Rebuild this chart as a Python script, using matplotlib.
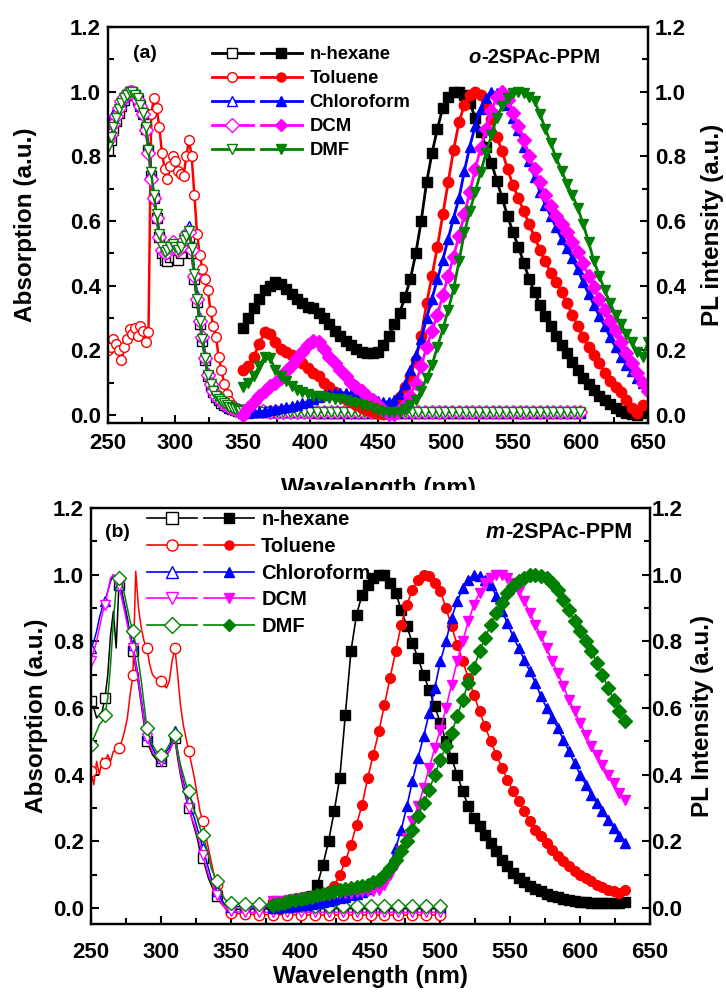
import numpy as np
import matplotlib
matplotlib.use("Agg")
import matplotlib.pyplot as plt
from matplotlib.lines import Line2D
from matplotlib.legend_handler import HandlerTuple
from matplotlib.ticker import MultipleLocator, FormatStrFormatter
from matplotlib.patches import Rectangle

plt.rcParams['font.family'] = ['Liberation Sans', 'DejaVu Sans']
plt.rcParams['font.weight'] = 'bold'
plt.rcParams['axes.labelweight'] = 'bold'

solvents = ["n-hexane", "Toluene", "Chloroform", "DCM", "DMF"]
colors = ["#000000", "#ff0000", "#0000ff", "#ff00ff", "#008000"]
markers_a = ["s", "o", "^", "D", "v"]
markers_b = ["s", "o", "^", "v", "D"]

# ---------------- Panel (a): o-2SPAc-PPM ----------------
wl_abs_a = np.concatenate([np.arange(250, 350, 2), np.arange(350, 601, 5)])
abs_a_hexane = [0.82, 0.85, 0.88, 0.91, 0.935, 0.955, 0.975, 0.99, 1.0, 1.0,
                0.99, 0.975, 0.955, 0.93, 0.885, 0.82, 0.74, 0.67, 0.61, 0.55,
                0.50, 0.48, 0.475, 0.49, 0.50, 0.49, 0.48, 0.50, 0.52, 0.54,
                0.55, 0.50, 0.42, 0.35, 0.28, 0.23, 0.17, 0.12, 0.09, 0.07,
                0.055, 0.045, 0.038, 0.032, 0.027, 0.022, 0.018, 0.015, 0.013, 0.012,
                0.011, 0.010, 0.010, 0.009, 0.009, 0.009, 0.008, 0.008, 0.008, 0.008,
                0.008, 0.007, 0.007, 0.007, 0.007, 0.007, 0.007, 0.006, 0.006, 0.006,
                0.006, 0.006, 0.006, 0.006, 0.006, 0.005, 0.005, 0.005, 0.005, 0.005,
                0.005, 0.005, 0.005, 0.005, 0.005, 0.005, 0.005, 0.005, 0.005, 0.005,
                0.005, 0.005, 0.005, 0.005, 0.005, 0.005, 0.005, 0.005, 0.005, 0.005,
                0.005]
abs_a_toluene = [0.20, 0.21, 0.235, 0.22, 0.20, 0.17, 0.21, 0.235, 0.265, 0.25,
                 0.27, 0.245, 0.275, 0.26, 0.225, 0.255, 0.93, 0.98, 0.95, 0.89,
                 0.81, 0.76, 0.73, 0.77, 0.80, 0.785, 0.755, 0.745, 0.74, 0.80,
                 0.85, 0.80, 0.68, 0.56, 0.495, 0.45, 0.42, 0.385, 0.32, 0.275,
                 0.24, 0.18, 0.14, 0.095, 0.065, 0.042, 0.03, 0.02, 0.015, 0.012,
                 0.012, 0.012, 0.011, 0.011, 0.011, 0.010, 0.010, 0.010, 0.010, 0.010,
                 0.009, 0.009, 0.009, 0.009, 0.009, 0.009, 0.008, 0.008, 0.008, 0.008,
                 0.008, 0.008, 0.008, 0.008, 0.007, 0.007, 0.007, 0.007, 0.007, 0.007,
                 0.007, 0.007, 0.007, 0.007, 0.007, 0.007, 0.007, 0.007, 0.007, 0.007,
                 0.007, 0.007, 0.007, 0.007, 0.007, 0.007, 0.007, 0.007, 0.007, 0.007,
                 0.007]
abs_a_chloroform = [0.90, 0.91, 0.93, 0.945, 0.96, 0.975, 0.985, 0.995, 1.0, 1.0,
                    0.995, 0.98, 0.96, 0.935, 0.89, 0.83, 0.75, 0.68, 0.62, 0.56,
                    0.52, 0.51, 0.515, 0.525, 0.535, 0.525, 0.515, 0.525, 0.545, 0.565,
                    0.585, 0.52, 0.44, 0.37, 0.30, 0.245, 0.18, 0.13, 0.10, 0.08,
                    0.065, 0.053, 0.045, 0.038, 0.032, 0.026, 0.021, 0.018, 0.015, 0.013,
                    0.012, 0.012, 0.011, 0.011, 0.010, 0.010, 0.010, 0.010, 0.009, 0.009,
                    0.009, 0.009, 0.009, 0.009, 0.009, 0.008, 0.008, 0.008, 0.008, 0.008,
                    0.008, 0.008, 0.008, 0.008, 0.008, 0.008, 0.008, 0.008, 0.008, 0.008,
                    0.008, 0.008, 0.008, 0.008, 0.008, 0.008, 0.008, 0.008, 0.008, 0.008,
                    0.008, 0.008, 0.008, 0.008, 0.008, 0.008, 0.008, 0.008, 0.008, 0.008,
                    0.008]
abs_a_dcm = [0.85, 0.87, 0.90, 0.925, 0.95, 0.97, 0.985, 0.995, 1.0, 1.0,
             0.99, 0.975, 0.955, 0.93, 0.88, 0.81, 0.73, 0.67, 0.61, 0.55,
             0.51, 0.50, 0.505, 0.52, 0.535, 0.52, 0.51, 0.52, 0.54, 0.56,
             0.565, 0.51, 0.43, 0.36, 0.29, 0.24, 0.175, 0.125, 0.095, 0.075,
             0.06, 0.05, 0.042, 0.035, 0.03, 0.025, 0.02, 0.017, 0.015, 0.013,
             0.012, 0.011, 0.011, 0.011, 0.010, 0.010, 0.010, 0.010, 0.010, 0.010,
             0.010, 0.010, 0.010, 0.010, 0.010, 0.010, 0.010, 0.010, 0.010, 0.010,
             0.010, 0.010, 0.010, 0.010, 0.010, 0.010, 0.010, 0.010, 0.010, 0.010,
             0.010, 0.010, 0.010, 0.010, 0.010, 0.010, 0.010, 0.010, 0.010, 0.010,
             0.010, 0.010, 0.010, 0.010, 0.010, 0.010, 0.010, 0.010, 0.010, 0.010,
             0.010]
abs_a_dmf = [0.83, 0.86, 0.89, 0.92, 0.945, 0.965, 0.98, 0.99, 1.0, 1.0,
             0.99, 0.98, 0.96, 0.935, 0.89, 0.82, 0.75, 0.68, 0.62, 0.56,
             0.52, 0.505, 0.51, 0.52, 0.53, 0.52, 0.51, 0.52, 0.54, 0.555,
             0.57, 0.515, 0.435, 0.36, 0.29, 0.235, 0.175, 0.125, 0.095, 0.075,
             0.06, 0.05, 0.042, 0.036, 0.03, 0.025, 0.02, 0.017, 0.015, 0.013,
             0.012, 0.011, 0.011, 0.010, 0.010, 0.010, 0.009, 0.009, 0.009, 0.009,
             0.009, 0.009, 0.009, 0.009, 0.009, 0.009, 0.009, 0.009, 0.009, 0.009,
             0.009, 0.009, 0.009, 0.009, 0.009, 0.009, 0.009, 0.009, 0.009, 0.009,
             0.009, 0.009, 0.009, 0.009, 0.009, 0.009, 0.009, 0.009, 0.009, 0.009,
             0.009, 0.009, 0.009, 0.009, 0.009, 0.009, 0.009, 0.009, 0.009, 0.009,
             0.009]

wl_pl_a = np.arange(350, 651, 4)
pl_a_hexane = [0.27, 0.30, 0.33, 0.36, 0.385, 0.40, 0.41, 0.405, 0.39, 0.375,
               0.36, 0.345, 0.335, 0.33, 0.315, 0.30, 0.28, 0.26, 0.245, 0.23,
               0.215, 0.205, 0.195, 0.19, 0.19, 0.195, 0.215, 0.245, 0.28, 0.315,
               0.365, 0.42, 0.50, 0.60, 0.72, 0.81, 0.885, 0.95, 0.985, 1.0,
               1.0, 0.99, 0.965, 0.92, 0.875, 0.83, 0.78, 0.725, 0.67, 0.615,
               0.565, 0.52, 0.47, 0.42, 0.38, 0.34, 0.305, 0.275, 0.245, 0.215,
               0.19, 0.165, 0.14, 0.115, 0.095, 0.078, 0.06, 0.045, 0.033, 0.022,
               0.013, 0.006, 0.002, 0.0, 0.005]
pl_a_toluene = [0.14, 0.15, 0.18, 0.22, 0.255, 0.25, 0.225, 0.205, 0.195, 0.185,
                0.175, 0.16, 0.145, 0.13, 0.12, 0.10, 0.085, 0.07, 0.06, 0.05,
                0.04, 0.03, 0.022, 0.015, 0.01, 0.005, 0.002, 0.01, 0.03, 0.055,
                0.085, 0.12, 0.17, 0.245, 0.345, 0.43, 0.52, 0.62, 0.72, 0.82,
                0.905, 0.96, 0.99, 1.0, 0.99, 0.96, 0.915, 0.86, 0.815, 0.76,
                0.71, 0.67, 0.63, 0.59, 0.55, 0.51, 0.475, 0.44, 0.41, 0.38,
                0.345, 0.31, 0.275, 0.24, 0.21, 0.185, 0.16, 0.13, 0.105, 0.085,
                0.07, 0.045, 0.02, 0.006, 0.03]
pl_a_chloroform = [0.005, 0.005, 0.008, 0.01, 0.012, 0.015, 0.018, 0.022, 0.026, 0.028,
                   0.032, 0.036, 0.04, 0.048, 0.056, 0.062, 0.066, 0.068, 0.068, 0.067,
                   0.066, 0.064, 0.06, 0.055, 0.048, 0.043, 0.04, 0.04, 0.045, 0.065,
                   0.095, 0.14, 0.185, 0.235, 0.30, 0.36, 0.42, 0.48, 0.545, 0.61,
                   0.67, 0.755, 0.83, 0.895, 0.945, 0.98, 1.0, 0.995, 0.985, 0.96,
                   0.92, 0.88, 0.83, 0.785, 0.735, 0.69, 0.65, 0.615, 0.58, 0.545,
                   0.515, 0.485, 0.45, 0.41, 0.375, 0.34, 0.305, 0.275, 0.24, 0.21,
                   0.18, 0.155, 0.135, 0.115, 0.10, 0.085]
pl_a_dcm = [0.0, 0.02, 0.04, 0.06, 0.075, 0.09, 0.10, 0.115, 0.135, 0.155,
            0.175, 0.195, 0.215, 0.23, 0.225, 0.205, 0.18, 0.16, 0.14, 0.12,
            0.10, 0.087, 0.075, 0.06, 0.045, 0.03, 0.015, 0.003, 0.003, 0.015,
            0.03, 0.06, 0.10, 0.15, 0.21, 0.26, 0.31, 0.37, 0.43, 0.49,
            0.555, 0.62, 0.69, 0.76, 0.825, 0.885, 0.94, 0.985, 1.0, 0.975,
            0.935, 0.895, 0.85, 0.80, 0.76, 0.72, 0.68, 0.645, 0.615, 0.59,
            0.565, 0.535, 0.505, 0.47, 0.43, 0.395, 0.36, 0.325, 0.29, 0.26,
            0.225, 0.19, 0.16, 0.13, 0.10, 0.075]
pl_a_dmf = [0.085, 0.10, 0.12, 0.15, 0.18, 0.175, 0.14, 0.12, 0.105, 0.09,
            0.078, 0.07, 0.065, 0.06, 0.057, 0.055, 0.053, 0.05, 0.048, 0.045,
            0.04, 0.036, 0.032, 0.027, 0.02, 0.015, 0.01, 0.008, 0.008, 0.01,
            0.018, 0.03, 0.045, 0.075, 0.115, 0.155, 0.21, 0.265, 0.325, 0.39,
            0.475, 0.565, 0.63, 0.69, 0.75, 0.81, 0.865, 0.92, 0.955, 0.98,
            0.995, 1.0, 0.995, 0.985, 0.97, 0.93, 0.885, 0.84, 0.795, 0.755,
            0.715, 0.68, 0.64, 0.59, 0.535, 0.475, 0.43, 0.385, 0.345, 0.31,
            0.28, 0.25, 0.225, 0.195, 0.18, 0.225]

# ---------------- Panel (b): m-2SPAc-PPM ----------------
wl_abs_b = np.concatenate([np.arange(250, 350, 2), np.arange(350, 501, 5)])
abs_b_hexane = [0.62, 0.60, 0.57, 0.58, 0.59, 0.63, 0.70, 0.82, 0.89, 0.78,
                0.97, 0.95, 0.91, 0.87, 0.82, 0.77, 0.72, 0.67, 0.61, 0.55,
                0.50, 0.48, 0.46, 0.45, 0.44, 0.44, 0.445, 0.46, 0.47, 0.49,
                0.51, 0.45, 0.40, 0.36, 0.33, 0.30, 0.27, 0.24, 0.21, 0.17,
                0.15, 0.12, 0.09, 0.07, 0.05, 0.035, 0.02, 0.01, 0.0, -0.005,
                -0.005, -0.004, -0.004, -0.003, -0.003, -0.003, -0.002, -0.002, -0.002, -0.002,
                -0.002, -0.002, -0.002, -0.002, -0.002, -0.002, -0.002, -0.002, -0.002, -0.002,
                -0.002, -0.002, -0.002, -0.002, -0.002, -0.002, -0.002, -0.002, -0.002, -0.002,
                -0.002]
abs_b_toluene = [0.41, 0.37, 0.44, 0.40, 0.45, 0.435, 0.46, 0.44, 0.47, 0.47,
                 0.48, 0.50, 0.53, 0.57, 0.64, 0.70, 1.01, 0.90, 0.84, 0.80,
                 0.78, 0.73, 0.70, 0.69, 0.685, 0.68, 0.67, 0.66, 0.68, 0.74,
                 0.78, 0.70, 0.61, 0.55, 0.51, 0.47, 0.43, 0.39, 0.34, 0.29,
                 0.26, 0.22, 0.18, 0.14, 0.10, 0.07, 0.04, 0.02, 0.0, -0.01,
                 -0.015, -0.017, -0.018, -0.019, -0.02, -0.02, -0.02, -0.02, -0.02, -0.02,
                 -0.021, -0.021, -0.021, -0.021, -0.021, -0.021, -0.021, -0.021, -0.021, -0.021,
                 -0.021, -0.021, -0.021, -0.021, -0.021, -0.021, -0.021, -0.021, -0.021, -0.021,
                 -0.021]
abs_b_chloroform = [0.78, 0.80, 0.83, 0.87, 0.90, 0.92, 0.95, 0.98, 1.0, 0.99,
                    0.97, 0.94, 0.90, 0.86, 0.82, 0.79, 0.74, 0.69, 0.63, 0.57,
                    0.52, 0.50, 0.48, 0.465, 0.455, 0.45, 0.455, 0.47, 0.48, 0.50,
                    0.53, 0.47, 0.42, 0.38, 0.35, 0.32, 0.29, 0.27, 0.24, 0.21,
                    0.18, 0.15, 0.12, 0.09, 0.07, 0.05, 0.035, 0.02, 0.01, 0.005,
                    0.003, 0.004, 0.004, 0.003, 0.003, 0.002, 0.002, 0.002, 0.002, 0.002,
                    0.002, 0.002, 0.002, 0.002, 0.002, 0.002, 0.002, 0.002, 0.002, 0.002,
                    0.002, 0.002, 0.002, 0.002, 0.002, 0.002, 0.002, 0.002, 0.002, 0.002,
                    0.002]
abs_b_dcm = [0.74, 0.77, 0.80, 0.84, 0.88, 0.91, 0.95, 0.99, 1.0, 0.99,
             0.965, 0.93, 0.89, 0.85, 0.81, 0.78, 0.73, 0.68, 0.62, 0.56,
             0.51, 0.49, 0.47, 0.455, 0.445, 0.44, 0.445, 0.455, 0.47, 0.49,
             0.51, 0.46, 0.41, 0.37, 0.34, 0.30, 0.27, 0.25, 0.22, 0.19,
             0.16, 0.13, 0.10, 0.08, 0.06, 0.04, 0.025, 0.01, 0.0, -0.005,
             -0.01, -0.012, -0.012, -0.013, -0.013, -0.013, -0.013, -0.013, -0.013, -0.013,
             -0.013, -0.013, -0.013, -0.013, -0.013, -0.013, -0.013, -0.013, -0.013, -0.013,
             -0.013, -0.013, -0.013, -0.013, -0.013, -0.013, -0.013, -0.013, -0.013, -0.013,
             -0.013]
abs_b_dmf = [0.49, 0.51, 0.53, 0.55, 0.56, 0.58, 0.63, 0.73, 0.86, 0.96,
             0.99, 0.975, 0.94, 0.90, 0.86, 0.83, 0.79, 0.74, 0.68, 0.61,
             0.54, 0.51, 0.49, 0.475, 0.465, 0.46, 0.465, 0.475, 0.49, 0.505,
             0.52, 0.47, 0.43, 0.40, 0.37, 0.35, 0.32, 0.29, 0.27, 0.24,
             0.22, 0.19, 0.16, 0.12, 0.10, 0.08, 0.06, 0.04, 0.025, 0.018,
             0.015, 0.014, 0.013, 0.012, 0.011, 0.010, 0.010, 0.009, 0.009, 0.008,
             0.008, 0.008, 0.007, 0.007, 0.007, 0.006, 0.006, 0.006, 0.006, 0.005,
             0.005, 0.005, 0.005, 0.005, 0.005, 0.005, 0.005, 0.005, 0.005, 0.005,
             0.005]

wl_pl_b = np.arange(380, 633, 4)
pl_b_hexane = [0.01, 0.01, 0.01, 0.012, 0.013, 0.015, 0.02, 0.035, 0.07, 0.13,
               0.20, 0.29, 0.39, 0.58, 0.77, 0.88, 0.94, 0.97, 0.99, 1.0,
               1.0, 0.975, 0.945, 0.895, 0.845, 0.795, 0.75, 0.70, 0.655, 0.605,
               0.555, 0.50, 0.45, 0.40, 0.35, 0.305, 0.27, 0.245, 0.22, 0.195,
               0.17, 0.145, 0.125, 0.105, 0.09, 0.078, 0.067, 0.058, 0.05, 0.043,
               0.037, 0.032, 0.027, 0.024, 0.021, 0.019, 0.017, 0.016, 0.015, 0.014,
               0.014, 0.014, 0.015, 0.017]
pl_b_toluene = [0.02, 0.02, 0.02, 0.02, 0.02, 0.02, 0.025, 0.03, 0.035, 0.04,
                0.05, 0.065, 0.10, 0.14, 0.19, 0.25, 0.31, 0.39, 0.46, 0.53,
                0.61, 0.69, 0.77, 0.85, 0.91, 0.955, 0.985, 1.0, 0.995, 0.975,
                0.95, 0.90, 0.845, 0.79, 0.74, 0.69, 0.64, 0.59, 0.545, 0.50,
                0.46, 0.42, 0.385, 0.35, 0.32, 0.29, 0.26, 0.235, 0.215, 0.195,
                0.175, 0.155, 0.14, 0.125, 0.11, 0.10, 0.09, 0.08, 0.07, 0.062,
                0.055, 0.05, 0.045, 0.055]
pl_b_chloroform = [0.0, 0.0, 0.002, 0.004, 0.006, 0.008, 0.01, 0.012, 0.015, 0.018,
                   0.022, 0.026, 0.03, 0.034, 0.038, 0.042, 0.048, 0.058, 0.07, 0.085,
                   0.105, 0.13, 0.18, 0.235, 0.305, 0.38, 0.45, 0.515, 0.585, 0.66,
                   0.74, 0.80, 0.87, 0.92, 0.96, 0.985, 1.0, 0.995, 0.985, 0.97,
                   0.935, 0.89, 0.855, 0.815, 0.78, 0.745, 0.71, 0.675, 0.635, 0.60,
                   0.57, 0.54, 0.505, 0.47, 0.435, 0.40, 0.37, 0.34, 0.315, 0.29,
                   0.265, 0.24, 0.215, 0.195]
pl_b_dcm = [0.02, 0.02, 0.022, 0.025, 0.027, 0.03, 0.032, 0.034, 0.036, 0.038,
            0.04, 0.042, 0.044, 0.045, 0.046, 0.047, 0.049, 0.05, 0.052, 0.055,
            0.07, 0.10, 0.13, 0.17, 0.21, 0.26, 0.305, 0.36, 0.42, 0.48,
            0.535, 0.60, 0.67, 0.74, 0.80, 0.86, 0.91, 0.945, 0.975, 0.99,
            1.0, 1.0, 0.99, 0.975, 0.95, 0.92, 0.885, 0.85, 0.815, 0.78,
            0.74, 0.705, 0.665, 0.625, 0.59, 0.555, 0.52, 0.485, 0.46, 0.43,
            0.40, 0.375, 0.345, 0.325]
pl_b_dmf = [0.01, 0.013, 0.016, 0.02, 0.023, 0.027, 0.03, 0.034, 0.038, 0.042,
            0.046, 0.05, 0.053, 0.056, 0.059, 0.062, 0.066, 0.07, 0.077, 0.085,
            0.10, 0.12, 0.145, 0.17, 0.20, 0.235, 0.275, 0.315, 0.355, 0.40,
            0.445, 0.485, 0.525, 0.575, 0.625, 0.675, 0.72, 0.77, 0.81, 0.85,
            0.885, 0.915, 0.945, 0.965, 0.98, 0.99, 1.0, 1.0, 0.995, 0.99,
            0.975, 0.955, 0.925, 0.895, 0.86, 0.83, 0.80, 0.77, 0.735, 0.70,
            0.66, 0.625, 0.59, 0.56]

abs_a = [abs_a_hexane, abs_a_toluene, abs_a_chloroform, abs_a_dcm, abs_a_dmf]
pl_a = [pl_a_hexane, pl_a_toluene, pl_a_chloroform, pl_a_dcm, pl_a_dmf]
abs_b = [abs_b_hexane, abs_b_toluene, abs_b_chloroform, abs_b_dcm, abs_b_dmf]
pl_b = [pl_b_hexane, pl_b_toluene, pl_b_chloroform, pl_b_dcm, pl_b_dmf]

W, H = 726, 993
fig = plt.figure(figsize=(W / 100, H / 100), dpi=100)


def frac_rect(l, t, r, b):
    return [l / W, 1 - b / H, (r - l) / W, (b - t) / H]


axA = fig.add_axes(frac_rect(108, 27, 648, 423))
axA2 = axA.twinx()
axB = fig.add_axes(frac_rect(91, 508, 650, 924))
axB2 = axB.twinx()

TICK_FS = 16

def style_axes(ax, ax2, ylo, xpad, lpad, rpad):
    ax.set_xlim(250, 650)
    for a in (ax, ax2):
        a.set_ylim(ylo, 1.2)
        a.yaxis.set_major_locator(MultipleLocator(0.2))
        a.yaxis.set_minor_locator(MultipleLocator(0.1))
        a.yaxis.set_major_formatter(FormatStrFormatter('%.1f'))
        for s in a.spines.values():
            s.set_linewidth(1.6)
    ax.xaxis.set_major_locator(MultipleLocator(50))
    ax.xaxis.set_minor_locator(MultipleLocator(25))
    ax.tick_params(axis='both', which='both', direction='in', top=False, right=False,
                   width=1.5, labelsize=TICK_FS)
    ax.tick_params(which='major', length=6)
    ax.tick_params(which='minor', length=4)
    ax.tick_params(axis='x', pad=xpad)
    ax.tick_params(axis='y', pad=lpad)
    ax2.tick_params(axis='y', which='both', direction='in', width=1.5, labelsize=TICK_FS,
                    pad=rpad)
    ax2.tick_params(axis='y', which='major', length=6)
    ax2.tick_params(axis='y', which='minor', length=4)
    for lab in ax.get_xticklabels() + ax.get_yticklabels() + ax2.get_yticklabels():
        lab.set_fontweight('bold')


style_axes(axA, axA2, -0.025, 7, 5, 5)
style_axes(axB, axB2, -0.048, 13, 5, 1)

# ---- Panel (a) curves
for y, c, m in zip(abs_a, colors, markers_a):
    n = min(len(y), len(wl_abs_a))
    axA.plot(wl_abs_a[:n], y[:n], color=c, lw=1.8, marker=m, ms=7, mfc='white',
             mec=c, mew=1.0)
for y, c, m in zip(pl_a, colors, markers_a):
    n = min(len(y), len(wl_pl_a))
    axA2.plot(wl_pl_a[:n], y[:n], color=c, lw=2.0, marker=m, ms=7.5, mfc=c, mec=c)

# ---- Panel (b) curves
mark_idx = [i for i, w in enumerate(wl_abs_b) if w % 10 == 0]
for y, c, m in zip(abs_b, colors, markers_b):
    n = min(len(y), len(wl_abs_b))
    idx = [i for i in mark_idx if i < n]
    axB.plot(wl_abs_b[:n], y[:n], color=c, lw=1.1, marker=m, ms=7.5, mfc='white',
             mec=c, mew=1.0, markevery=idx)
for y, c, m in zip(pl_b, colors, markers_b):
    n = min(len(y), len(wl_pl_b))
    axB2.plot(wl_pl_b[:n], y[:n], color=c, lw=1.2, marker=m, ms=7, mfc=c, mec=c)

# ---- Legends
def make_handles(markers, lw, ms_open, ms_fill):
    hs = []
    for c, m in zip(colors, markers):
        h_open = Line2D([], [], color=c, lw=lw, marker=m, ms=ms_open, mfc='white', mec=c)
        h_fill = Line2D([], [], color=c, lw=lw, marker=m, ms=ms_fill, mfc=c, mec=c)
        hs.append((h_open, h_fill))
    return hs

legA = axA2.legend(make_handles(markers_a, 2.0, 7, 6.5), solvents,
                   handler_map={tuple: HandlerTuple(ndivide=None, pad=0.4)},
                   loc='upper left', bbox_to_anchor=(0.192, 0.952), frameon=False,
                   handlelength=4.9, handletextpad=0.4, labelspacing=0.38,
                   borderpad=0, borderaxespad=0, numpoints=1,
                   prop={'weight': 'bold', 'size': 13.3})
legB = axB2.legend(make_handles(markers_b, 1.2, 8, 6.5), solvents,
                   handler_map={tuple: HandlerTuple(ndivide=None, pad=0.35)},
                   loc='upper left', bbox_to_anchor=(0.101, 0.994), frameon=False,
                   handlelength=5.3, handletextpad=0.35, labelspacing=0.38,
                   borderpad=0, borderaxespad=0, numpoints=1,
                   prop={'weight': 'bold', 'size': 14.5})

# ---- Panel labels and compound names
axA2.text(0.046, 0.934, "(a)", transform=axA2.transAxes, fontsize=14, fontweight='bold',
          va='center', ha='left')
axB2.text(0.025, 0.942, "(b)", transform=axB2.transAxes, fontsize=14, fontweight='bold',
          va='center', ha='left')

tA = axA2.text(0.668, 0.924, "o", transform=axA2.transAxes, fontsize=14.5, fontweight='bold',
               style='italic', va='center', ha='left')
axA2.annotate("-2SPAc-PPM", xy=(1, 0), xycoords=tA, va='bottom', ha='left',
              fontsize=14.5, fontweight='bold')
tB = axB2.text(0.706, 0.942, "m", transform=axB2.transAxes, fontsize=15.5, fontweight='bold',
               style='italic', va='center', ha='left')
axB2.annotate("-2SPAc-PPM", xy=(1, 0), xycoords=tB, va='bottom', ha='left',
              fontsize=15.5, fontweight='bold')

# ---- Axis labels
LAB_FS = 17.5
fig.text(26 / W, 1 - 225 / H, "Absorption (a.u.)", rotation=90, ha='center', va='center',
         fontsize=LAB_FS, fontweight='bold')
fig.text(712 / W, 1 - 225 / H, "PL intensity (a.u.)", rotation=90, ha='center', va='center',
         fontsize=LAB_FS, fontweight='bold')
fig.text(378 / W, 1 - 495 / H, "Wavelength (nm)", ha='center', va='baseline',
         fontsize=LAB_FS, fontweight='bold')
fig.patches.append(Rectangle((250 / W, 1 - 506 / H), 260 / W, 16 / H,
                             transform=fig.transFigure, facecolor='white',
                             edgecolor='none', zorder=20))

fig.text(37 / W, 1 - 716 / H, "Absorption (a.u.)", rotation=90, ha='center', va='center',
         fontsize=LAB_FS, fontweight='bold')
fig.text(703 / W, 1 - 716 / H, "PL Intensity (a.u.)", rotation=90, ha='center', va='center',
         fontsize=LAB_FS, fontweight='bold')
fig.text(370 / W, 1 - 983 / H, "Wavelength (nm)", ha='center', va='baseline',
         fontsize=LAB_FS, fontweight='bold')

fig.savefig("out.png", dpi=100, facecolor='white')
